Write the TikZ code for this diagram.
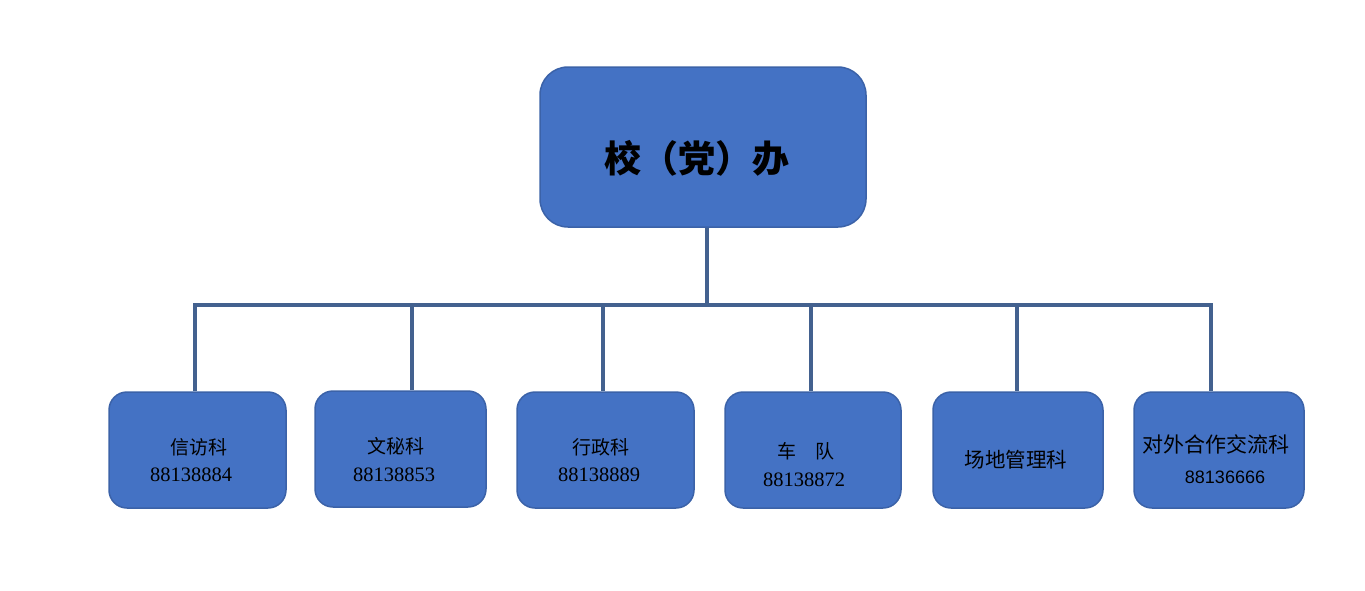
\documentclass[tikz,border=0pt]{standalone}
\usepackage{fontspec}
\setmainfont{Liberation Serif}
\newfontfamily\cjk{Noto Sans CJK SC}
\newfontfamily\numsans{Liberation Sans}
\definecolor{boxfill}{HTML}{4472C4}
\definecolor{boxedge}{HTML}{3B62A8}
\definecolor{linecol}{HTML}{43618F}
\begin{document}
\begin{tikzpicture}[x=1pt,y=-1pt,
  topbox/.style={draw=boxedge,line width=1.5pt,fill=boxfill,rounded corners=28pt,minimum width=326pt,minimum height=160pt,inner sep=0pt},
  subbox/.style={draw=boxedge,line width=1.5pt,fill=boxfill,rounded corners=18pt,minimum height=116pt,inner sep=0pt},
  conn/.style={draw=linecol,line width=4pt,line join=miter},
  cn/.style={font=\cjk\fontsize{19}{22}\selectfont,inner sep=0pt,text=black},
  num/.style={font=\fontsize{20.5}{24}\selectfont,inner sep=0pt,text=black}]
\useasboundingbox (0,0) rectangle (1365,590);
% boxes
\node[topbox] (top) at (703,147) {};
\node[subbox,minimum width=177pt] (b1) at (197.5,450) {};
\node[subbox,minimum width=171pt] (b2) at (400.5,449) {};
\node[subbox,minimum width=177pt] (b3) at (605.5,450) {};
\node[subbox,minimum width=176pt] (b4) at (813,450) {};
\node[subbox,minimum width=170pt] (b5) at (1018,450) {};
\node[subbox,minimum width=170pt] (b6) at (1219,450) {};
% connector points
\coordinate (t) at (707,305);
\coordinate (d1) at (195,305);
\coordinate (d2) at (412,305);
\coordinate (d3) at (603,305);
\coordinate (d4) at (811,305);
\coordinate (d5) at (1017,305);
\coordinate (d6) at (1211,305);
% connectors
\draw[conn] (t |- top.south) -- (t);
\draw[conn] (d1 |- b1.north) -- (d1) -- (d6) -- (d6 |- b6.north);
\draw[conn] (d2) -- (d2 |- b2.north);
\draw[conn] (d3) -- (d3 |- b3.north);
\draw[conn] (d4) -- (d4 |- b4.north);
\draw[conn] (d5) -- (d5 |- b5.north);
% texts
\node[font=\cjk\bfseries\fontsize{37}{40}\selectfont,inner sep=0pt] (tt) at (697,158) {校（党）办};
\node[cn] (n1) at (199,447) {信访科};
\node[num] (p1) at (191,475) {88138884};
\node[cn] (n2) at (396,446) {文秘科};
\node[num] (p2) at (394,475) {88138853};
\node[cn] (n3) at (601,447) {行政科};
\node[num] (p3) at (599,475) {88138889};
\node[cn] (n4) at (806,451) {车\hspace{20pt}队};
\node[num] (p4) at (804,480) {88138872};
\node[cn,font=\cjk\fontsize{20.5}{24}\selectfont] (n5) at (1016,460) {场地管理科};
\node[cn,font=\cjk\fontsize{21}{24}\selectfont] (n6) at (1216,444) {对外合作交流科};
\node[font=\numsans\fontsize{18}{22}\selectfont,inner sep=0pt] (p6) at (1225,477) {88136666};
\end{tikzpicture}
\end{document}
